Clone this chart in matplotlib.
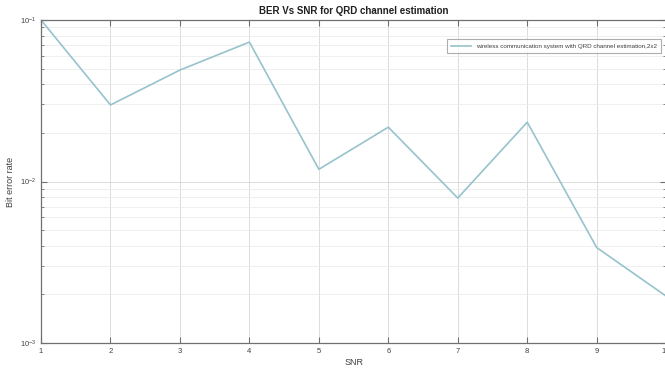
import matplotlib
matplotlib.use('Agg')
import matplotlib.pyplot as plt
from matplotlib.ticker import LogLocator, NullFormatter

snr = [1, 2, 3, 4, 5, 6, 7, 8, 9, 10]
ber = [0.1, 0.0298, 0.049, 0.073, 0.0119, 0.0217, 0.0079, 0.0233, 0.0039, 0.00195]
legend_label = 'wireless communication system with QRD channel estimation,2x2'

line_color = '#97c3cc'
axis_color = '#707070'
text_color = '#404040'

plt.rcParams['font.family'] = 'Liberation Sans'

fig = plt.figure(figsize=(6.65, 3.71), dpi=100)
ax = fig.add_axes([0.0617, 0.0755, 0.94, 0.8705])

ax.semilogy(snr, ber, color=line_color, linewidth=1.2, label=legend_label)

ax.set_xlim(1, 10)
ax.set_ylim(1e-3, 1e-1)
ax.set_xticks(snr)
ax.yaxis.set_major_locator(LogLocator(base=10, numticks=10))
ax.yaxis.set_minor_locator(LogLocator(base=10, subs=range(2, 10), numticks=10))
ax.yaxis.set_minor_formatter(NullFormatter())

ax.grid(True, which='major', color='#dcdcdc', linewidth=0.7)
ax.grid(True, which='minor', color='#ececec', linewidth=0.6)
ax.set_axisbelow(True)

for sp in ax.spines.values():
    sp.set_color(axis_color)
    sp.set_linewidth(0.9)
ax.tick_params(which='both', direction='in', colors=axis_color, labelcolor=text_color,
               labelsize=5.5, top=True, right=True)
ax.tick_params(which='major', length=4)
ax.tick_params(which='minor', length=2)

ax.set_title('BER Vs SNR for QRD channel estimation', fontsize=7, fontweight='bold',
             color='#202020', pad=4)
ax.set_xlabel('SNR', fontsize=6.5, color=text_color, labelpad=2)
ax.set_ylabel('Bit error rate', fontsize=6.5, color=text_color)
ax.yaxis.set_label_coords(-0.042, 0.5)

leg = ax.legend(loc='upper right', fontsize=4.5, frameon=True, fancybox=False,
                handlelength=3.2, borderpad=0.7, bbox_to_anchor=(0.9975, 0.95))
leg.get_frame().set_edgecolor('#9a9a9a')
leg.get_frame().set_linewidth(0.8)
for t in leg.get_texts():
    t.set_color(text_color)

fig.savefig('out.png', dpi=100)
